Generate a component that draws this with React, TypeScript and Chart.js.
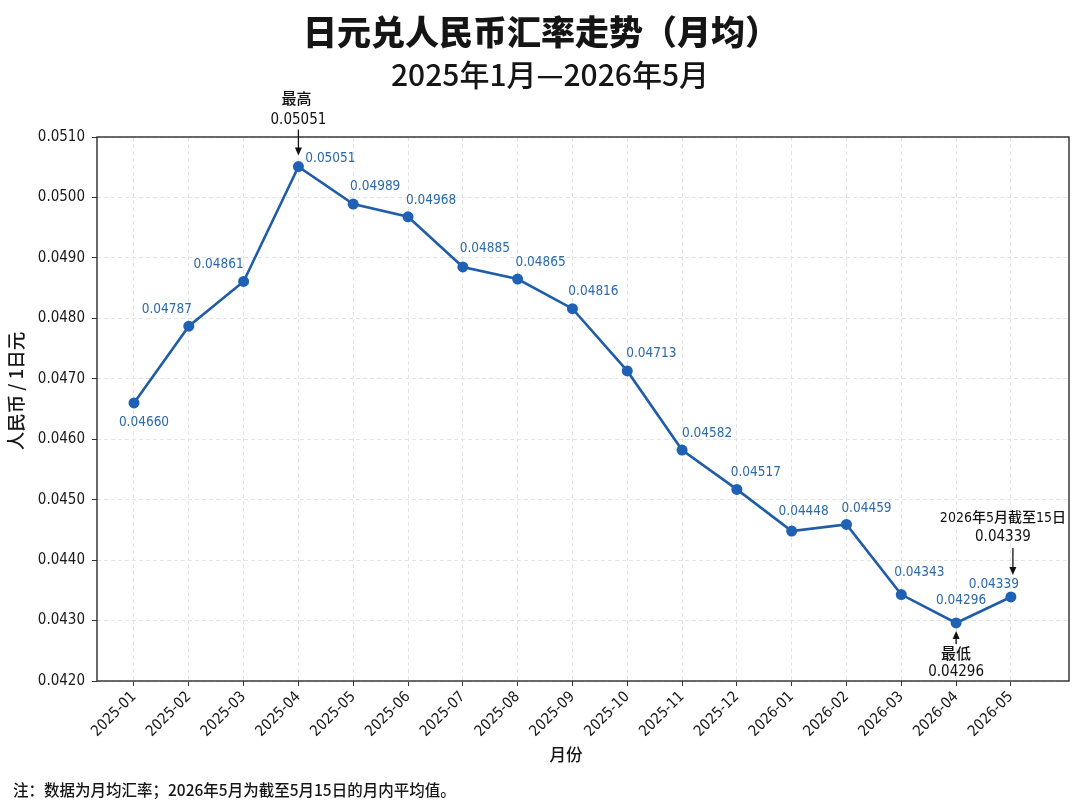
import React, { useEffect, useRef } from "react";
import { Chart, type ChartConfiguration, type Plugin, registerables } from "chart.js";

Chart.register(...registerables);

const months = [
  "2025-01", "2025-02", "2025-03", "2025-04", "2025-05", "2025-06",
  "2025-07", "2025-08", "2025-09", "2025-10", "2025-11", "2025-12",
  "2026-01", "2026-02", "2026-03", "2026-04", "2026-05",
];
const rates = [
  0.0466, 0.04787, 0.04861, 0.05051, 0.04989, 0.04968, 0.04885, 0.04865,
  0.04816, 0.04713, 0.04582, 0.04517, 0.04448, 0.04459, 0.04343, 0.04296,
  0.04339,
];
const yTicks = [0.042, 0.043, 0.044, 0.045, 0.046, 0.047, 0.048, 0.049, 0.05, 0.051];

const title = "日元兑人民币汇率走势（月均）";
const subtitle = "2025年1月—2026年5月";
const yTitle = "人民币 / 1日元";
const xTitle = "月份";
const note = "注：数据为月均汇率；2026年5月为截至5月15日的月内平均值。";

const NUM = '"DejaVu Sans Condensed", "Noto Sans CJK SC", sans-serif';
const CJK = '"Noto Sans CJK SC", sans-serif';
const LINE = "#1f5da8";
const LABEL = "#2c6aa9";

// label placement per point (dx, dy from the marker), hand tuned
const labelOffsets: [number, number][] = [
  [10, 20], [-22, -17], [-25, -17], [32, -8], [22, -18], [23, -16],
  [22, -18], [23, -17], [21, -17], [24, -17], [25, -17], [19, -17],
  [12, -20], [20, -16], [18, -22], [5, -22], [-17, -12],
];

function arrow(ctx: CanvasRenderingContext2D, x: number, y0: number, y1: number) {
  const dir = y1 > y0 ? 1 : -1;
  ctx.beginPath();
  ctx.moveTo(x, y0);
  ctx.lineTo(x, y1 - dir * 6);
  ctx.strokeStyle = "#111";
  ctx.lineWidth = 1.3;
  ctx.stroke();
  ctx.beginPath();
  ctx.moveTo(x, y1);
  ctx.lineTo(x - 3.5, y1 - dir * 8);
  ctx.lineTo(x + 3.5, y1 - dir * 8);
  ctx.closePath();
  ctx.fillStyle = "#111";
  ctx.fill();
}

const decorPlugin: Plugin<"line"> = {
  id: "decor",
  afterDraw(chart) {
    const { ctx, chartArea: a } = chart;
    const meta = chart.getDatasetMeta(0);
    ctx.save();

    // frame
    ctx.strokeStyle = "#2b2b2b";
    ctx.lineWidth = 1.4;
    ctx.strokeRect(a.left, a.top, a.right - a.left, a.bottom - a.top);

    // value labels
    ctx.font = `13.5px ${NUM}`;
    ctx.fillStyle = LABEL;
    ctx.textAlign = "center";
    ctx.textBaseline = "middle";
    meta.data.forEach((pt, i) => {
      const [dx, dy] = labelOffsets[i];
      ctx.fillText(rates[i].toFixed(5), pt.x + dx, pt.y + dy);
    });

    // annotations
    const hi = rates.indexOf(Math.max(...rates));
    const lo = rates.indexOf(Math.min(...rates));
    const last = rates.length - 1;
    ctx.fillStyle = "#111";
    ctx.font = `500 15px ${NUM}`;

    const ph = meta.data[hi];
    ctx.fillText("最高", ph.x - 2, ph.y - 67);
    ctx.fillText(rates[hi].toFixed(5), ph.x, ph.y - 47);
    arrow(ctx, ph.x, ph.y - 37, ph.y - 11);

    const pl = meta.data[lo];
    ctx.fillStyle = "#111";
    ctx.fillText("最低", pl.x, pl.y + 32);
    ctx.fillText(rates[lo].toFixed(5), pl.x, pl.y + 49);
    arrow(ctx, pl.x, pl.y + 21, pl.y + 8);

    const pe = meta.data[last];
    ctx.fillStyle = "#111";
    ctx.font = `500 14px ${NUM}`;
    ctx.fillText("2026年5月截至15日", pe.x - 8, pe.y - 79);
    ctx.font = `500 15px ${NUM}`;
    ctx.fillText(rates[last].toFixed(5), pe.x - 8, pe.y - 60);
    arrow(ctx, pe.x + 2, pe.y - 49, pe.y - 22);

    // titles
    ctx.fillStyle = "#151515";
    ctx.font = `900 34px ${CJK}`;
    ctx.fillText(title, 541, 32);
    ctx.font = `500 30px ${CJK}`;
    ctx.fillText(subtitle, 550, 75);

    ctx.font = `500 16.5px ${CJK}`;
    ctx.fillText(xTitle, 566, 755);

    ctx.save();
    ctx.translate(16, 391);
    ctx.rotate(-Math.PI / 2);
    ctx.font = `500 18.5px ${CJK}`;
    ctx.fillText(yTitle, 0, 0);
    ctx.restore();

    ctx.textAlign = "left";
    ctx.font = `500 15.5px ${CJK}`;
    ctx.fillText(note, 13, 790);

    ctx.restore();
  },
};

export default function App() {
  const chartRef = useRef<HTMLCanvasElement | null>(null);
  const chartInstance = useRef<Chart | null>(null);

  useEffect(() => {
    if (!chartRef.current) return;
    if (chartInstance.current) {
      chartInstance.current.destroy();
    }

    const config: ChartConfiguration<"line"> = {
      type: "line",
      data: {
        datasets: [
          {
            data: rates.map((v, i) => ({ x: i, y: v })),
            borderColor: LINE,
            borderWidth: 2.6,
            pointRadius: 5.5,
            pointBackgroundColor: "#1f62b5",
            pointBorderWidth: 0,
            tension: 0,
          },
        ],
      },
      options: {
        responsive: false,
        animation: false,
        devicePixelRatio: 1,
        layout: { padding: { top: 137, right: 11, left: 0, bottom: 0 } },
        plugins: {
          legend: { display: false },
          tooltip: { enabled: false },
        },
        scales: {
          x: {
            type: "linear",
            min: -0.675,
            max: 17.06,
            afterBuildTicks: (scale) => {
              scale.ticks = months.map((_, i) => ({ value: i }));
            },
            afterFit: (scale) => {
              scale.height = 129;
            },
            ticks: {
              autoSkip: false,
              minRotation: 45,
              maxRotation: 45,
              padding: 2,
              color: "#1a1a1a",
              font: { family: NUM, size: 15 },
              callback: (v) => months[Number(v)] ?? "",
            },
            grid: { color: "#e4e4e4", tickColor: "#333", tickLength: 5 },
            border: { display: false, dash: [4, 3] },
          },
          y: {
            min: 0.042,
            max: 0.051,
            afterBuildTicks: (scale) => {
              scale.ticks = yTicks.map((v) => ({ value: v }));
            },
            afterFit: (scale) => {
              scale.width = 97;
            },
            ticks: {
              padding: 7,
              color: "#1a1a1a",
              font: { family: NUM, size: 15 },
              callback: (v) => Number(v).toFixed(4),
            },
            grid: { color: "#e4e4e4", tickColor: "#333", tickLength: 5 },
            border: { display: false, dash: [4, 3] },
          },
        },
      },
      plugins: [decorPlugin],
    };

    chartInstance.current = new Chart(chartRef.current, config);

    return () => {
      if (chartInstance.current) {
        chartInstance.current.destroy();
        chartInstance.current = null;
      }
    };
  }, []);

  return (
    <div style={{ position: "absolute", left: 0, top: 0, width: 1080, height: 810, background: "#fff" }}>
      <canvas ref={chartRef} width={1080} height={810} />
    </div>
  );
}
